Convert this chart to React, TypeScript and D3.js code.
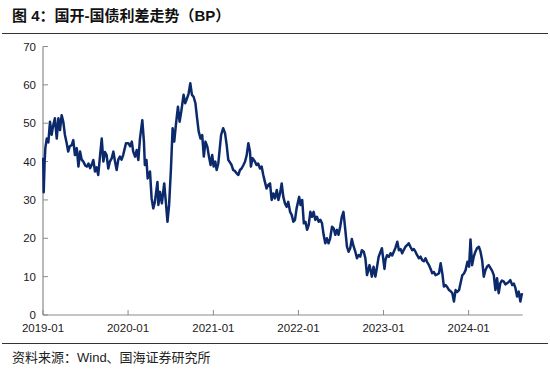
import React from "react";
import * as d3 from "d3";

const TITLE = "图 4：国开-国债利差走势（BP）";
const SOURCE = "资料来源：Wind、国海证券研究所";

const yTicks = [0, 10, 20, 30, 40, 50, 60, 70];
const xTickDates = ["2019-01-01", "2020-01-01", "2021-01-01", "2022-01-01", "2023-01-01", "2024-01-01"];
const xTickLabels = ["2019-01", "2020-01", "2021-01", "2022-01", "2023-01", "2024-01"];
const xDomain = ["2019-01-01", "2024-08-20"];

const s2019: [string, number][] = [
  ["2019-01-02", 41], ["2019-01-04", 32], ["2019-01-08", 40], ["2019-01-11", 43.5], ["2019-01-17", 46],
  ["2019-01-24", 45], ["2019-01-31", 50.4], ["2019-02-07", 47], ["2019-02-14", 49.5], ["2019-02-21", 51.3],
  ["2019-03-01", 46], ["2019-03-08", 51.3], ["2019-03-15", 48.2], ["2019-03-22", 52.1], ["2019-03-29", 50.4],
  ["2019-04-05", 47], ["2019-04-12", 45], ["2019-04-19", 42.6], ["2019-04-26", 44], ["2019-05-04", 44.3],
  ["2019-05-11", 45.6], ["2019-05-18", 41.7], ["2019-05-26", 43.5], ["2019-06-02", 38.7], ["2019-06-09", 42.6],
  ["2019-06-16", 40.5], ["2019-06-23", 40], ["2019-07-01", 39], ["2019-07-08", 38.7], ["2019-07-15", 39.5],
  ["2019-07-22", 38.3], ["2019-07-29", 39.2], ["2019-08-05", 40.4], ["2019-08-12", 37.4], ["2019-08-19", 38.5],
  ["2019-08-26", 36.5], ["2019-09-03", 41.7], ["2019-09-10", 46], ["2019-09-17", 40], ["2019-09-24", 42.5],
  ["2019-10-01", 41.7], ["2019-10-08", 38.2], ["2019-10-15", 40], ["2019-10-23", 40.9], ["2019-10-30", 42.6],
  ["2019-11-06", 40], ["2019-11-13", 37.8], ["2019-11-20", 40.5], ["2019-11-27", 41.3], ["2019-12-04", 40.5],
  ["2019-12-11", 41.7], ["2019-12-18", 43.5], ["2019-12-23", 44.8],
];

const s2020: [string, number][] = [
  ["2020-01-02", 44.8], ["2020-01-10", 44], ["2020-01-17", 45.2], ["2020-01-23", 42.6], ["2020-01-31", 41.3],
  ["2020-02-07", 43], ["2020-02-14", 40.4], ["2020-02-21", 46], ["2020-03-02", 50.8], ["2020-03-09", 45.2],
  ["2020-03-13", 39.1], ["2020-03-20", 40.4], ["2020-03-25", 35.6], ["2020-04-04", 37.4], ["2020-04-11", 30.4],
  ["2020-04-18", 27.8], ["2020-04-25", 29.5], ["2020-05-06", 34.7], ["2020-05-10", 28.7], ["2020-05-17", 32.1],
  ["2020-05-25", 29.1], ["2020-06-04", 34.3], ["2020-06-11", 29.5], ["2020-06-18", 24.3], ["2020-06-25", 28.7],
  ["2020-07-03", 38.2], ["2020-07-10", 48.7], ["2020-07-17", 45.2], ["2020-07-24", 49.5], ["2020-08-02", 54.3],
  ["2020-08-09", 50.4], ["2020-08-16", 53], ["2020-08-26", 57.4], ["2020-09-02", 55.2], ["2020-09-10", 56.5],
  ["2020-09-17", 57.8], ["2020-09-24", 60.4], ["2020-10-01", 57.4], ["2020-10-08", 56.9], ["2020-10-16", 55.2],
  ["2020-10-23", 51.3], ["2020-10-30", 47.8], ["2020-11-07", 46], ["2020-11-14", 46.9], ["2020-11-21", 41.3],
  ["2020-11-28", 45.2], ["2020-12-06", 43.9], ["2020-12-13", 41.3], ["2020-12-20", 39.1], ["2020-12-27", 41.7],
];

const s2021: [string, number][] = [
  ["2021-01-02", 38.7], ["2021-01-09", 40], ["2021-01-15", 37.8], ["2021-01-22", 39.5], ["2021-02-03", 46.9],
  ["2021-02-12", 48.7], ["2021-02-20", 47.4], ["2021-02-27", 44.3], ["2021-03-06", 40.4], ["2021-03-13", 39.8],
  ["2021-03-20", 39.1], ["2021-03-27", 37.8], ["2021-04-04", 37.5], ["2021-04-11", 36.9], ["2021-04-18", 36.5],
  ["2021-04-25", 37.8], ["2021-05-02", 38.2], ["2021-05-10", 39.1], ["2021-05-17", 40], ["2021-05-24", 41.7],
  ["2021-05-31", 44.8], ["2021-06-07", 42.6], ["2021-06-11", 38.7], ["2021-06-18", 40.9], ["2021-06-28", 40],
  ["2021-07-05", 39.1], ["2021-07-12", 39.5], ["2021-07-20", 38.2], ["2021-07-27", 38.7], ["2021-08-03", 36.5],
  ["2021-08-10", 34.7], ["2021-08-17", 33], ["2021-08-24", 33.9], ["2021-09-01", 34.3], ["2021-09-08", 30],
  ["2021-09-15", 31.7], ["2021-09-22", 30.4], ["2021-09-30", 32.6], ["2021-10-07", 30], ["2021-10-14", 31.7],
  ["2021-10-21", 34.3], ["2021-10-28", 30.8], ["2021-11-04", 29.1], ["2021-11-11", 28.2], ["2021-11-18", 29.5],
  ["2021-11-26", 26.9], ["2021-12-03", 26.1], ["2021-12-10", 24.3], ["2021-12-17", 24.8], ["2021-12-24", 27.8],
];

const s2022: [string, number][] = [
  ["2022-01-04", 30.8], ["2022-01-10", 28.7], ["2022-01-17", 30], ["2022-01-24", 23.9], ["2022-01-31", 24.3],
  ["2022-02-07", 22.2], ["2022-02-14", 23.5], ["2022-02-21", 26.9], ["2022-02-28", 25.6], ["2022-03-07", 26.9],
  ["2022-03-14", 24.8], ["2022-03-21", 25.6], ["2022-03-29", 24.3], ["2022-04-05", 24.8], ["2022-04-12", 23.9],
  ["2022-04-19", 20.9], ["2022-04-26", 18.7], ["2022-05-03", 20], ["2022-05-10", 18.7], ["2022-05-17", 20],
  ["2022-05-25", 23], ["2022-06-01", 22.6], ["2022-06-08", 20.9], ["2022-06-15", 22.2], ["2022-06-22", 20.9],
  ["2022-06-29", 23], ["2022-07-06", 25.6], ["2022-07-13", 26.9], ["2022-07-20", 22.8], ["2022-07-28", 17.8],
  ["2022-08-04", 16.5], ["2022-08-11", 17.4], ["2022-08-18", 19.8], ["2022-08-25", 18], ["2022-09-02", 16.5],
  ["2022-09-09", 14.8], ["2022-09-16", 15.6], ["2022-09-23", 15.2], ["2022-09-30", 16.9], ["2022-10-08", 16.5],
  ["2022-10-15", 14.8], ["2022-10-22", 10.4], ["2022-11-02", 13], ["2022-11-12", 10], ["2022-11-19", 12.6],
  ["2022-11-27", 10], ["2022-12-04", 12.5], ["2022-12-11", 15.2], ["2022-12-25", 17.4],
];

const s2023: [string, number][] = [
  ["2023-01-05", 12], ["2023-01-09", 14.3], ["2023-01-16", 15.6], ["2023-01-24", 15.2], ["2023-01-31", 16.1],
  ["2023-02-07", 15.5], ["2023-02-14", 16.5], ["2023-02-21", 17.5], ["2023-03-01", 19.1], ["2023-03-08", 16.9],
  ["2023-03-15", 17.2], ["2023-03-22", 16.1], ["2023-03-29", 17], ["2023-04-05", 17.8], ["2023-04-12", 18.2],
  ["2023-04-19", 18.7], ["2023-04-26", 17.8], ["2023-05-04", 16.9], ["2023-05-11", 17.2], ["2023-05-18", 16.5],
  ["2023-05-25", 15.6], ["2023-06-02", 14.8], ["2023-06-09", 15.2], ["2023-06-16", 14.3], ["2023-06-23", 14],
  ["2023-06-30", 14.8], ["2023-07-07", 13.8], ["2023-07-15", 13], ["2023-07-22", 12], ["2023-07-29", 10.9],
  ["2023-08-05", 11.2], ["2023-08-12", 10.4], ["2023-08-20", 10.6], ["2023-08-27", 10.9], ["2023-09-03", 13.5],
  ["2023-09-10", 10.9], ["2023-09-17", 7.4], ["2023-09-24", 7.8], ["2023-10-02", 7.2], ["2023-10-09", 6.5],
  ["2023-10-16", 6.2], ["2023-10-23", 5.7], ["2023-10-30", 3.5], ["2023-11-06", 6.5], ["2023-11-13", 6],
  ["2023-11-21", 6.5], ["2023-11-28", 8.5], ["2023-12-05", 10.4], ["2023-12-12", 10.8], ["2023-12-19", 11.7],
  ["2023-12-27", 13.9],
];

const s2024: [string, number][] = [
  ["2024-01-03", 12.6], ["2024-01-09", 19.7], ["2024-01-16", 13], ["2024-01-23", 15.2], ["2024-01-30", 16.5],
  ["2024-02-06", 17.4], ["2024-02-14", 17.8], ["2024-02-21", 16.5], ["2024-02-28", 14.3], ["2024-03-06", 10],
  ["2024-03-13", 11.7], ["2024-03-20", 12.6], ["2024-03-27", 13], ["2024-04-04", 12.2], ["2024-04-11", 11.5],
  ["2024-04-18", 10.4], ["2024-04-25", 6.5], ["2024-05-02", 9.6], ["2024-05-09", 5.7], ["2024-05-16", 8.3],
  ["2024-05-23", 9], ["2024-05-31", 8.7], ["2024-06-07", 8], ["2024-06-14", 8.3], ["2024-06-21", 8.6],
  ["2024-06-28", 9.1], ["2024-07-06", 7.8], ["2024-07-13", 8.2], ["2024-07-20", 7], ["2024-07-27", 4.8],
  ["2024-08-03", 6.1], ["2024-08-10", 3.5], ["2024-08-17", 5.7],
];

const W = 550;
const H = 370;
const FONT = "'Liberation Sans', Arial, 'Noto Sans CJK SC', sans-serif";

export default function App() {
  const parse = d3.timeParse("%Y-%m-%d");
  const data = [...s2019, ...s2020, ...s2021, ...s2022, ...s2023, ...s2024].map(
    ([d, v]) => ({ date: parse(d) as Date, value: v })
  );

  const x = d3
    .scaleTime()
    .domain(xDomain.map((d) => parse(d) as Date))
    .range([43, 522.7]);
  const y = d3.scaleLinear().domain([0, 70]).range([315, 46.5]);

  const line = d3
    .line<{ date: Date; value: number }>()
    .x((d) => x(d.date))
    .y((d) => y(d.value))
    .curve(d3.curveLinear);

  const axisColor = "#8a8a8a";
  const textColor = "#1a1a1a";

  return (
    <svg
      width={W}
      height={H}
      style={{ position: "absolute", left: 0, top: 0, background: "#fff" }}
      fontFamily={FONT}
    >
      <rect x={0} y={0} width={W} height={H} fill="#fff" />
      <text x={12} y={21} fontSize={15} fontWeight="bold" fill="#111">
        {TITLE}
      </text>
      <line x1={2} x2={548} y1={33.5} y2={33.5} stroke="#333" strokeWidth={1} />

      {/* y axis */}
      <line x1={43} x2={43} y1={y(70)} y2={y(0)} stroke={axisColor} strokeWidth={1.2} />
      {yTicks.map((t) => (
        <g key={t}>
          <line x1={43} x2={48} y1={y(t)} y2={y(t)} stroke={axisColor} strokeWidth={1} />
          <text x={36} y={y(t)} dy="0.35em" textAnchor="end" fontSize={11.5} fill={textColor}>
            {t}
          </text>
        </g>
      ))}

      {/* x axis */}
      <line x1={43} x2={522.7} y1={y(0)} y2={y(0)} stroke={axisColor} strokeWidth={1.2} />
      {xTickDates.map((d, i) => {
        const px = x(parse(d) as Date);
        return (
          <g key={d}>
            <line x1={px} x2={px} y1={y(0)} y2={y(0) - 5} stroke={axisColor} strokeWidth={1} />
            <text x={px} y={332} textAnchor="middle" fontSize={11.5} fill={textColor}>
              {xTickLabels[i]}
            </text>
          </g>
        );
      })}

      <path d={line(data) || ""} fill="none" stroke="#0c2a6b" strokeWidth={2.5} strokeLinejoin="round" />

      <line x1={2} x2={548} y1={343.5} y2={343.5} stroke="#333" strokeWidth={1} />
      <text x={12} y={362} fontSize={13} fill="#222">
        {SOURCE}
      </text>
    </svg>
  );
}
